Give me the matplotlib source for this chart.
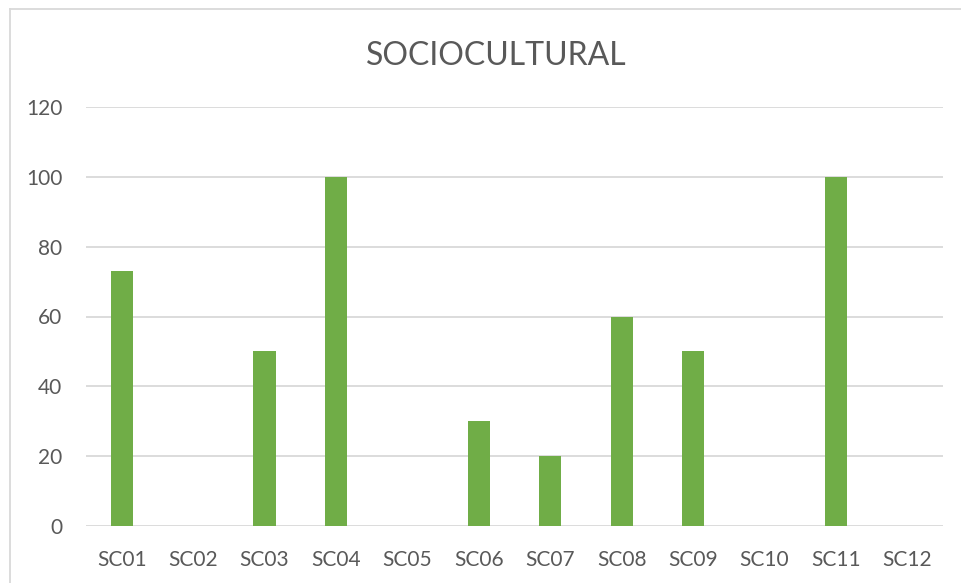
import matplotlib.pyplot as plt
from matplotlib.lines import Line2D

categories = ['SC01', 'SC02', 'SC03', 'SC04', 'SC05', 'SC06',
              'SC07', 'SC08', 'SC09', 'SC10', 'SC11', 'SC12']
values = [73, 0, 50, 100, 0, 30, 20, 60, 50, 0, 100, 0]
y_ticks = [0, 20, 40, 60, 80, 100, 120]

plt.rcParams['font.family'] = ['Lato', 'DejaVu Sans']

W, H = 961, 583
fig = plt.figure(figsize=(W / 100, H / 100), dpi=100)
fig.patch.set_facecolor('white')

# plot area in pixel coordinates
left, right, top, bottom = 86, 943, 107, 526
ax = fig.add_axes([left / W, (H - bottom) / H, (right - left) / W, (bottom - top) / H])

x = list(range(len(categories)))
ax.bar(x, values, width=0.31, color='#70AD47', zorder=3)

ax.set_xlim(-0.5, len(categories) - 0.5)
ax.set_ylim(0, 120)
ax.set_yticks(y_ticks)
ax.set_xticks(x)
ax.set_xticklabels(categories)
ax.grid(axis='y', color='#D9D9D9', linewidth=1.3, zorder=0)
for s in ax.spines.values():
    s.set_visible(False)
ax.tick_params(length=0, colors='#595959', labelsize=15)
ax.tick_params(axis='y', pad=17)
ax.tick_params(axis='x', pad=17)

fig.text(496 / W, 1 - 56 / H, 'SOCIOCULTURAL', ha='center', va='center',
         fontsize=23, color='#595959')

# chart border (top and left visible)
fig.add_artist(Line2D([10 / W, 10 / W], [0, 1 - 9 / H], color='#D9D9D9', linewidth=1.3))
fig.add_artist(Line2D([10 / W, 1], [1 - 9 / H, 1 - 9 / H], color='#D9D9D9', linewidth=1.3))

fig.savefig('out.png', dpi=100)
